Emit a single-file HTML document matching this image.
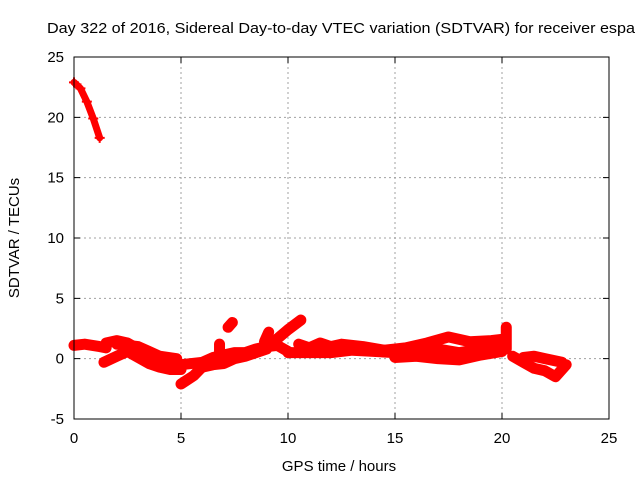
<!DOCTYPE html>
<html><head><meta charset="utf-8"><style>
body{margin:0;background:#fff}
svg{display:block;font-family:"Liberation Sans",sans-serif}
</style></head><body>
<svg id="c" width="640" height="480">
<text x="47" y="33" font-size="15" textLength="588" lengthAdjust="spacingAndGlyphs">Day 322 of 2016, Sidereal Day-to-day VTEC variation (SDTVAR) for receiver espa</text>
<text x="339" y="471" font-size="15" text-anchor="middle">GPS time / hours</text>
<text transform="translate(19,238) rotate(-90)" font-size="15" text-anchor="middle">SDTVAR / TECUs</text>
<g id="grid"></g><g id="data"></g><g id="axes"></g>
</svg>
<script>
const xTicks=[0,5,10,15,20,25];
const yTicks=[-5,0,5,10,15,20,25];
const trackEarly=[[0,22.9],[0.3,22.4],[0.6,21.3],[0.9,19.9],[1.2,18.3]];
const trackStart=[[0,1.1],[0.5,1.2],[1.2,1.0],[1.5,0.9]];
const trackUpper1=[[1.5,1.3],[2,1.5],[2.5,1.3],[3,0.8],[3.5,0.3],[4,-0.2],[4.5,-0.4],[5,-0.6]];
const trackLower1=[[1.4,-0.3],[2,0.2],[2.5,0.6],[3,0.1],[3.5,-0.4],[4,-0.7],[4.5,-0.9],[5,-0.9]];
const trackMid1=[[2,1.2],[2.5,1.1],[3,1.0],[3.5,0.6],[4,0.2],[4.8,0.0]];
const trackDiag=[[5,-2.1],[5.6,-1.4],[6.2,-0.3]];
const trackMain2=[[5,-0.5],[6,-0.3],[6.5,0.1],[7,0.3],[7.5,0.5],[8,0.5],[8.5,0.8],[9,1.0],[9.5,1.1],[10,0.6]];
const trackLow2=[[6,-0.7],[6.5,-0.5],[7,-0.4],[7.5,0],[8,0.2],[8.5,0.5],[9,0.8]];
const trackRise=[[9.4,1.5],[10,2.4],[10.6,3.2]];
const spike1=[[7.2,2.6],[7.4,3.0]];
const spike2=[[6.8,0.2],[6.8,1.2]];
const spike4=[[8.9,1.4],[9.1,2.2]];
const trackMain3=[[10,0.5],[11,0.5],[12,0.5],[13,0.7],[14,0.6],[15,0.5],[16,0.7],[17,0.8],[18,0.5],[19,0.8],[20,1.2]];
const trackUpper3=[[10.5,1.2],[11,0.9],[11.5,1.3],[12,1.0],[12.5,1.2],[13.5,1.0],[14.5,0.7],[15.5,0.9],[16.5,1.3],[17.5,1.8],[18.5,1.4],[19.5,1.5],[20,1.6]];
const trackLower3=[[15,0.1],[16,0.2],[17,0.0],[18,-0.1],[19,0.3],[20,0.6]];
const spike3=[[20.2,2.6],[20.2,0.8]];
const trackEnd=[[20.5,0.2],[21,-0.3],[21.5,-0.8],[22,-1.0],[22.5,-1.5],[23,-0.5]];
const trackEnd2=[[21,0.1],[21.5,0.2],[22,0.0],[22.8,-0.3]];
const bands=[trackStart,trackUpper1,trackLower1,trackMid1,trackDiag,trackMain2,trackLow2,trackRise,spike1,spike2,spike4,trackMain3,trackUpper3,trackLower3,spike3,trackEnd,trackEnd2];

const X0=74,X1=609,Y0=419,Y1=57;
const sx=v=>X0+(v-0)/(25-0)*(X1-X0);
const sy=v=>Y0-(v+5)/(30)*(Y0-Y1);
const NS='http://www.w3.org/2000/svg';
const mk=(t,a,p)=>{const e=document.createElementNS(NS,t);for(const k in a)e.setAttribute(k,a[k]);p.appendChild(e);return e;};
const grid=document.getElementById('grid'),axes=document.getElementById('axes'),data=document.getElementById('data');
xTicks.forEach(t=>{const x=sx(t);
 if(t>0&&t<25){const l=mk('line',{x1:x,x2:x,y1:Y1,y2:Y0,stroke:'#a0a0a0','stroke-dasharray':'2,3'},grid);}
 const tk=mk('path',{d:`M${x},${Y0}v-6M${x},${Y1}v6`,stroke:'#000'},axes);
 const tx=mk('text',{x:x,y:Y0+24,'font-size':15,'text-anchor':'middle'},axes);tx.textContent=t;});
yTicks.forEach(t=>{const y=sy(t);
 if(t>-5&&t<25){const l=mk('line',{x1:X0,x2:X1,y1:y,y2:y,stroke:'#a0a0a0','stroke-dasharray':'2,3'},grid);}
 const tk=mk('path',{d:`M${X0},${y}h6M${X1},${y}h-6`,stroke:'#000'},axes);
 const tx=mk('text',{x:X0-10,y:y+5,'font-size':15,'text-anchor':'end'},axes);tx.textContent=t;});
const fr=mk('rect',{x:X0,y:Y1,width:X1-X0,height:Y0-Y1,fill:'none',stroke:'#000'},axes);

function draw(arr,w){
 const p=mk('polyline',{points:arr.map(d=>sx(d[0])+','+sy(d[1])).join(' '),fill:'none',stroke:'#f00','stroke-width':w,'stroke-linejoin':'round','stroke-linecap':'round'},data);
 
 arr.forEach(d=>{const m=mk('path',{d:`M${sx(d[0])-5},${sy(d[1])}h10M${sx(d[0])},${sy(d[1])-5}v10`,stroke:'#f00','stroke-width':2},data);
 });
}
draw(trackEarly,7);
bands.forEach(b=>draw(b,11));
</script>
</body></html>
